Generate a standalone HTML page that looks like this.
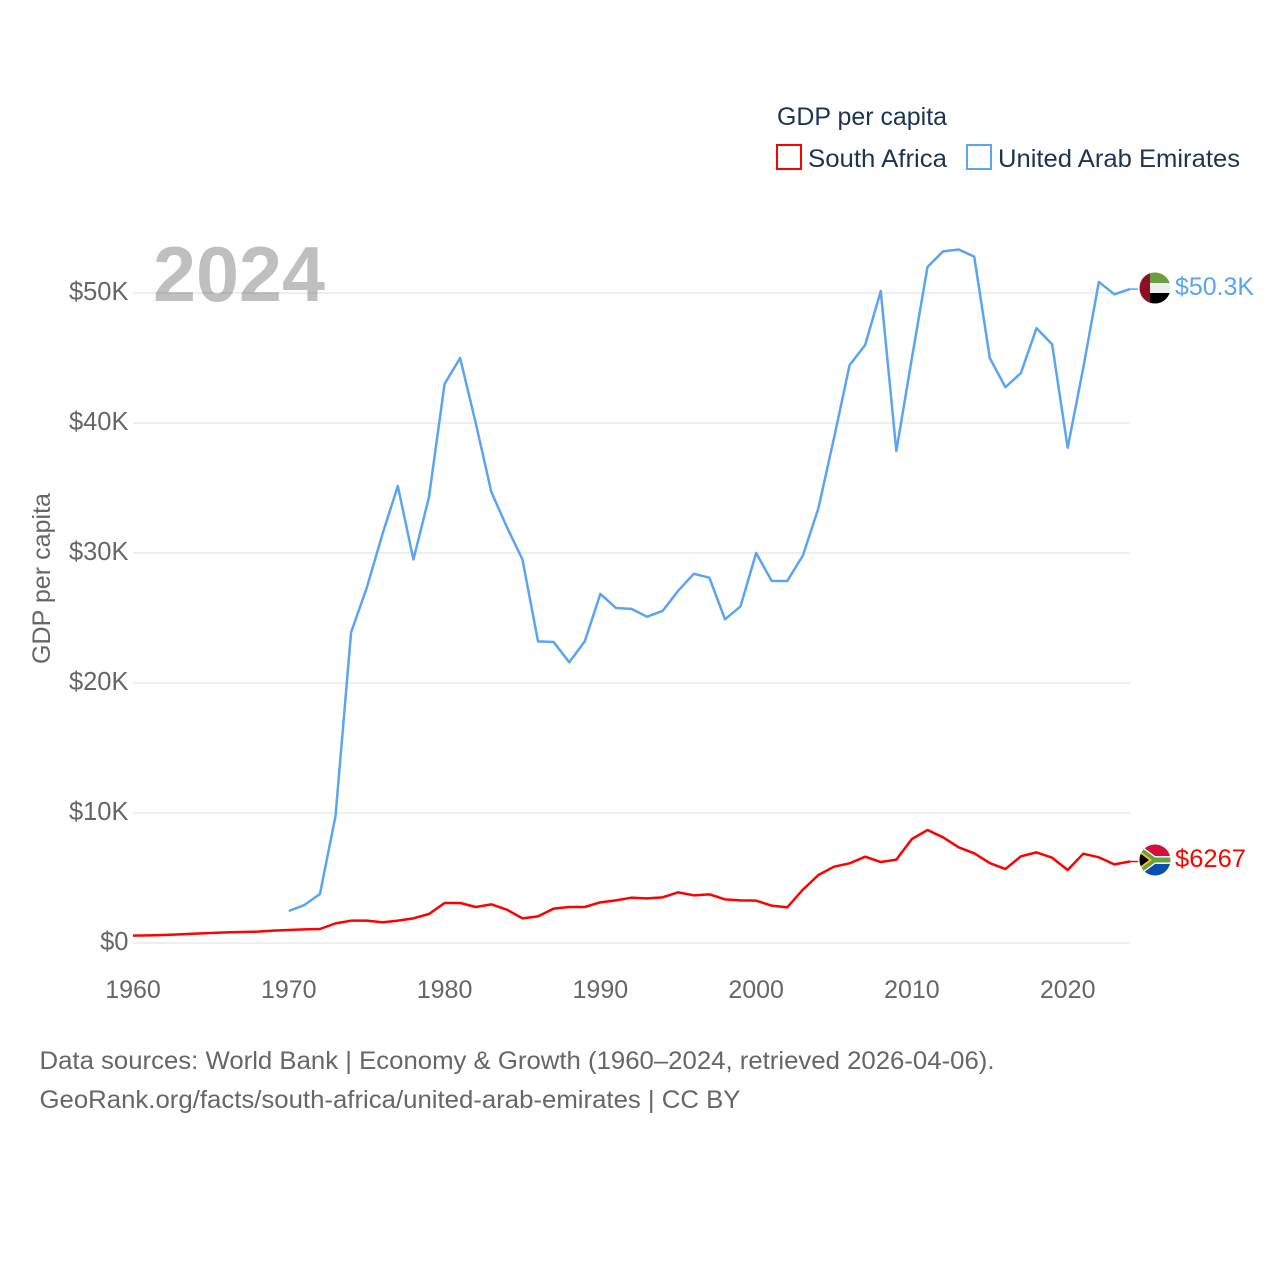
<!DOCTYPE html>
<html lang="en">
<head>
<meta charset="utf-8">
<title>GDP per capita: South Africa and United Arab Emirates</title>
<style>
html,body{margin:0;padding:0;background:#fff;width:1280px;height:1280px;overflow:hidden}
svg{display:block;font-family:"Liberation Sans",sans-serif}
</style>
</head>
<body>
<svg id="chart" xmlns="http://www.w3.org/2000/svg" width="1280" height="1280" viewBox="0 0 1280 1280">
  <defs>
    <clipPath id="flag-clip-uae"><circle cx="1155" cy="288" r="15.5"/></clipPath>
    <clipPath id="flag-clip-za"><circle cx="1155" cy="860" r="15.5"/></clipPath>
  </defs>
  <rect width="1280" height="1280" fill="#fff"/>

  <g id="grid"></g>
  <g id="y-ticks"></g>
  <g id="x-ticks"></g>

  <text x="153" y="301" font-size="78" font-weight="700" fill="#000" fill-opacity="0.25" textLength="172" lengthAdjust="spacingAndGlyphs">2024</text>

  <text transform="translate(50,578.5) rotate(-90)" text-anchor="middle" font-size="25" fill="#666" textLength="171" lengthAdjust="spacingAndGlyphs">GDP per capita</text>

  <g id="series"></g>

  <g clip-path="url(#flag-clip-uae)">
    <rect x="1139" y="272" width="32" height="11" fill="#6a9f3f"/>
    <rect x="1139" y="283" width="32" height="10" fill="#eeeeee"/>
    <rect x="1139" y="293" width="32" height="11" fill="#000"/>
    <rect x="1139" y="272" width="11" height="32" fill="#8c0f26"/>
  </g>
  <text x="1175" y="295" font-size="25" fill="#5ba4ef" textLength="79" lengthAdjust="spacingAndGlyphs">$50.3K</text>

  <g clip-path="url(#flag-clip-za)">
    <rect x="1139" y="844" width="32" height="16" fill="#d80f3a"/>
    <rect x="1139" y="860" width="32" height="16" fill="#0a4fb0"/>
    <path d="M1139 844 L1155 856 H1171 V864 H1155 L1139 876 Z" fill="#fff"/>
    <path d="M1139 846 L1155 857.5 H1171 V862.5 H1155 L1139 874 Z" fill="#6a9f3f"/>
    <path d="M1139 850 L1152 860 L1139 870 Z" fill="#f4c430"/>
    <path d="M1139 852.5 L1149 860 L1139 867.5 Z" fill="#000"/>
  </g>
  <text x="1175" y="867" font-size="25" fill="#ff0000" textLength="71" lengthAdjust="spacingAndGlyphs">$6267</text>

  <g>
    <text x="777" y="125" font-size="25" fill="#1c3353" textLength="170" lengthAdjust="spacingAndGlyphs">GDP per capita</text>
    <rect x="777" y="145" width="24" height="24" fill="none" stroke="#ff0000" stroke-width="2"/>
    <text x="808" y="167" font-size="25" fill="#1c3353" textLength="139" lengthAdjust="spacingAndGlyphs">South Africa</text>
    <rect x="967" y="145" width="24" height="24" fill="none" stroke="#5ba4ef" stroke-width="2"/>
    <text x="998" y="167" font-size="25" fill="#1c3353" textLength="242" lengthAdjust="spacingAndGlyphs">United Arab Emirates</text>
  </g>

  <text x="39.5" y="1069" font-size="25" fill="#666" textLength="955" lengthAdjust="spacingAndGlyphs">Data sources: World Bank | Economy &amp; Growth (1960–2024, retrieved 2026-04-06).</text>
  <text x="39.5" y="1108" font-size="25" fill="#666" textLength="701" lengthAdjust="spacingAndGlyphs">GeoRank.org/facts/south-africa/united-arab-emirates | CC BY</text>
</svg>

<script>
const startYear = 1960;
const endYear = 2024;
const uaeStartYear = 1970;
const southAfricaValues = [564,590,615,667,718,770,820,846,872,950,1000,1050,1077,1510,1718,1718,1590,1718,1897,2230,3077,3077,2770,2974,2564,1897,2050,2640,2770,2770,3128,3280,3487,3436,3513,3897,3667,3743,3359,3282,3256,2872,2743,4100,5230,5870,6128,6640,6230,6410,8000,8690,8130,7360,6900,6150,5690,6670,6970,6560,5615,6870,6590,6050,6267];
const uaeValues = [2460,2920,3770,9770,23900,27300,31400,35150,29500,34300,43000,45000,40000,34700,32000,29500,23200,23150,21600,23200,26850,25770,25700,25100,25550,27100,28400,28100,24900,25900,30000,27850,27850,29800,33450,38850,44450,46000,50150,37850,45000,52000,53200,53350,52800,45000,42750,43850,47300,46050,38100,44250,50850,49900,50300];
const yTickValues = [0,10000,20000,30000,40000,50000];
const yTickLabels = ["$0","$10K","$20K","$30K","$40K","$50K"];
const xTickYears = [1960,1970,1980,1990,2000,2010,2020];

const NS = "http://www.w3.org/2000/svg";
const plotLeft = 133, plotRight = 1130, plotBaseline = 943, plotTop50k = 293;
function xScale(year){ return plotLeft + (year - startYear) * (plotRight - plotLeft) / (endYear - startYear); }
function yScale(v){ return plotBaseline - v * (plotBaseline - plotTop50k) / 50000; }

const grid = document.getElementById("grid");
const yTicks = document.getElementById("y-ticks");
const xTicks = document.getElementById("x-ticks");
const series = document.getElementById("series");

yTickValues.forEach(function(v, i){
  const line = document.createElementNS(NS, "line");
  line.setAttribute("x1", plotLeft);
  line.setAttribute("x2", plotRight);
  line.setAttribute("y1", yScale(v));
  line.setAttribute("y2", yScale(v));
  line.setAttribute("stroke", "#eeeeee");
  line.setAttribute("stroke-width", "2");
  
  
  grid.appendChild(line);

  const t = document.createElementNS(NS, "text");
  t.textContent = yTickLabels[i];
  t.setAttribute("x", 128.5);
  t.setAttribute("y", yScale(v) + 7);
  t.setAttribute("text-anchor", "end");
  t.setAttribute("font-size", "25.5");
  t.setAttribute("fill", "#666");
  
  
  yTicks.appendChild(t);
});

xTickYears.forEach(function(year){
  const t = document.createElementNS(NS, "text");
  t.textContent = String(year);
  t.setAttribute("x", xScale(year));
  t.setAttribute("y", 998);
  t.setAttribute("text-anchor", "middle");
  t.setAttribute("font-size", "25");
  t.setAttribute("fill", "#666");
  
  
  xTicks.appendChild(t);
});

function linePoints(values, firstYear){
  return values.map(function(v, i){
    return xScale(firstYear + i).toFixed(2) + "," + yScale(v).toFixed(2);
  }).join(" ");
}

const uaeLine = document.createElementNS(NS, "polyline");
uaeLine.setAttribute("points", linePoints(uaeValues, uaeStartYear));
uaeLine.setAttribute("fill", "none");
uaeLine.setAttribute("stroke", "#5ba4ef");
uaeLine.setAttribute("stroke-width", "2.5");
uaeLine.setAttribute("stroke-linejoin", "round");


series.appendChild(uaeLine);

const zaLine = document.createElementNS(NS, "polyline");
zaLine.setAttribute("points", linePoints(southAfricaValues, startYear));
zaLine.setAttribute("fill", "none");
zaLine.setAttribute("stroke", "#ff0000");
zaLine.setAttribute("stroke-width", "2.5");
zaLine.setAttribute("stroke-linejoin", "round");


series.appendChild(zaLine);

const uaeConnector = document.createElementNS(NS, "line");
uaeConnector.setAttribute("x1", xScale(endYear));
uaeConnector.setAttribute("x2", 1138);
uaeConnector.setAttribute("y1", yScale(uaeValues[uaeValues.length - 1]));
uaeConnector.setAttribute("y2", yScale(uaeValues[uaeValues.length - 1]));
uaeConnector.setAttribute("stroke", "#5ba4ef");
uaeConnector.setAttribute("stroke-width", "1.5");


series.appendChild(uaeConnector);

const zaConnector = document.createElementNS(NS, "line");
zaConnector.setAttribute("x1", xScale(endYear));
zaConnector.setAttribute("x2", 1138);
zaConnector.setAttribute("y1", yScale(southAfricaValues[southAfricaValues.length - 1]));
zaConnector.setAttribute("y2", yScale(southAfricaValues[southAfricaValues.length - 1]));
zaConnector.setAttribute("stroke", "#ff0000");
zaConnector.setAttribute("stroke-width", "1.5");


series.appendChild(zaConnector);
</script>
</body>
</html>
